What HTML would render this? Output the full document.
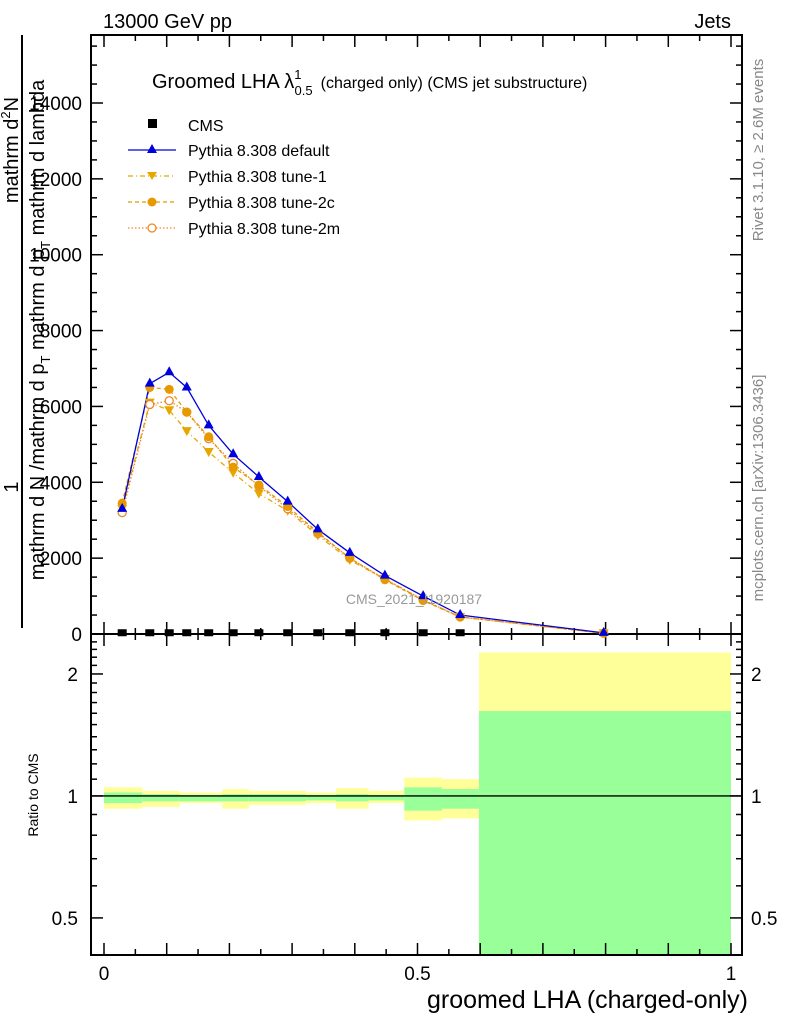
<!DOCTYPE html>
<html><head><meta charset="utf-8"><style>
body{margin:0;background:#fff;}
svg text{font-family:"Liberation Sans",sans-serif;}
</style></head><body>
<svg id="c" width="786" height="1024" xmlns="http://www.w3.org/2000/svg">
<g id="bands"></g>
<g id="axes"></g>
<g id="series"></g>
<text x="103" y="28" font-size="20">13000 GeV pp</text>
<text x="731" y="28" font-size="20" text-anchor="end">Jets</text>
<text x="152" y="88" font-size="20">Groomed LHA λ<tspan font-size="13" dy="-9">1</tspan><tspan font-size="13" dx="-7" dy="16">0.5</tspan><tspan font-size="16" dx="8" dy="-7">(charged only) (CMS jet substructure)</tspan></text>
<text x="414" y="604" font-size="14" fill="#999" text-anchor="middle">CMS_2021_I1920187</text>
<text transform="translate(763,150) rotate(-90)" font-size="15" fill="#888" text-anchor="middle">Rivet 3.1.10, ≥ 2.6M events</text>
<text transform="translate(763,488) rotate(-90)" font-size="15" fill="#888" text-anchor="middle">mcplots.cern.ch [arXiv:1306.3436]</text>
<g>
<text transform="translate(18,487) rotate(-90)" font-size="20" text-anchor="middle">1</text>
<line x1="22" y1="35" x2="22" y2="628" stroke="#000" stroke-width="2"/>
<text transform="translate(18,150) rotate(-90)" font-size="20" text-anchor="middle">mathrm d<tspan font-size="13" dy="-8">2</tspan><tspan dy="8">N</tspan></text>
<text transform="translate(44,330) rotate(-90)" font-size="20" text-anchor="middle">mathrm d N /mathrm d p<tspan font-size="13" dy="6">T</tspan><tspan dy="-6"> mathrm d p</tspan><tspan font-size="13" dy="6">T</tspan><tspan dy="-6"> mathrm d lambda</tspan></text>
</g>
<text transform="translate(38,795) rotate(-90)" font-size="14" text-anchor="middle">Ratio to CMS</text>
<text x="748" y="1008" font-size="25" text-anchor="end">groomed LHA (charged-only)</text>
<g>
<rect x="148" y="119" width="9" height="9" fill="#000"/>
<text x="188" y="131" font-size="16">CMS</text>
<line x1="128" y1="150" x2="176" y2="150" stroke="#0000dd" stroke-width="1.3"/>
<polygon points="152,144 157,153 147,153" fill="#0000dd"/>
<text x="188" y="156" font-size="16">Pythia 8.308 default</text>
<line x1="128" y1="176" x2="176" y2="176" stroke="#e6a800" stroke-width="1.3" stroke-dasharray="5,3,1,3"/>
<polygon points="147,172 157,172 152,180" fill="#e6a800"/>
<text x="188" y="182" font-size="16">Pythia 8.308 tune-1</text>
<line x1="128" y1="202" x2="176" y2="202" stroke="#e69a00" stroke-width="1.3" stroke-dasharray="4,3"/>
<circle cx="152" cy="202" r="4.5" fill="#e69a00"/>
<text x="188" y="208" font-size="16">Pythia 8.308 tune-2c</text>
<line x1="128" y1="228" x2="176" y2="228" stroke="#ee8822" stroke-width="1.3" stroke-dasharray="1.5,2"/>
<circle cx="152" cy="228" r="4" fill="#fff" stroke="#ee8822" stroke-width="1.3"/>
<text x="188" y="234" font-size="16">Pythia 8.308 tune-2m</text>
</g>
</svg>
<script>
const xs = [0.029,0.073,0.104,0.132,0.167,0.206,0.247,0.293,0.341,0.392,0.448,0.509,0.568,0.797];
const cms = [20,20,20,20,20,20,20,20,20,20,20,20,20,5];
const pyDefault = [3300,6600,6900,6500,5500,4740,4140,3490,2760,2140,1540,1000,500,30];
const tune1 = [3300,6100,5900,5350,4800,4250,3700,3250,2600,1950,1450,900,450,20];
const tune2c = [3450,6500,6450,5850,5200,4400,3930,3360,2680,2000,1430,880,450,20];
const tune2m = [3200,6050,6150,5850,5150,4500,3900,3300,2650,2000,1450,900,450,20];
const binEdges = [0,0.061,0.121,0.189,0.231,0.322,0.370,0.422,0.479,0.539,0.598,1];
const yelHi = [1.05,1.03,1.02,1.04,1.03,1.02,1.045,1.03,1.11,1.10,2.26];
const yelLo = [0.93,0.94,0.96,0.93,0.95,0.96,0.93,0.96,0.87,0.88,0.3];
const grnHi = [1.02,1.01,1.006,1.01,1.01,1.006,1.01,1.006,1.05,1.04,1.62];
const grnLo = [0.96,0.97,0.97,0.97,0.97,0.975,0.97,0.975,0.92,0.93,0.3];
const mainTicks = [0,2000,4000,6000,8000,10000,12000,14000];
const xTicks = [0,0.5,1];
const xTickLabels = ["0","0.5","1"];
const ratioTicks = [0.5,1,2];
const ratioTickLabels = ["0.5","1","2"];

const NS="http://www.w3.org/2000/svg";
const L=91,R=742,T=35,B=634,RB=955;
const X=v=>104+v*627;
const Y=v=>634-v*(531/14000);
const RMIN=0.405,RMAX=2.51;
const YR=v=>{v=Math.max(RMIN,Math.min(RMAX,v));return RB-(Math.log10(v)-Math.log10(RMIN))/(Math.log10(RMAX)-Math.log10(RMIN))*(RB-B);};
function mk(tag,attrs,parent){const e=document.createElementNS(NS,tag);for(const k in attrs)e.setAttribute(k,attrs[k]);parent.appendChild(e);return e;}
const bands=document.getElementById('bands'),axes=document.getElementById('axes'),ser=document.getElementById('series');
for(let i=0;i<yelHi.length;i++){
  const x0=X(binEdges[i]),x1=X(binEdges[i+1]);
  const y=mk('rect',{x:x0,y:YR(yelHi[i]),width:x1-x0,height:YR(yelLo[i])-YR(yelHi[i]),fill:'#ffff99'},bands);
  
  
  const g=mk('rect',{x:x0,y:YR(grnHi[i]),width:x1-x0,height:YR(grnLo[i])-YR(grnHi[i]),fill:'#99ff99'},bands);
  
  
}
const rl=mk('line',{x1:L,x2:R,y1:YR(1),y2:YR(1),stroke:'#000','stroke-width':1.3},axes);


mk('rect',{x:L,y:T,width:R-L,height:B-T,fill:'none',stroke:'#000','stroke-width':2},axes);
mk('rect',{x:L,y:B,width:R-L,height:RB-B,fill:'none',stroke:'#000','stroke-width':2},axes);
for(let v=0;v<=15500;v+=500){const big=v%2000===0;const w=big?12:6;
  mk('line',{x1:L,x2:L+w,y1:Y(v),y2:Y(v),stroke:'#000','stroke-width':1.5},axes);
  mk('line',{x1:R,x2:R-w,y1:Y(v),y2:Y(v),stroke:'#000','stroke-width':1.5},axes);}
mainTicks.forEach(v=>{const t=mk('text',{x:82,y:Y(v)+7,'font-size':19,'text-anchor':'end'},axes);t.textContent=String(v);
  
  });
for(let v=0;v<=1.0001;v+=0.05){const big=Math.abs(v*10-Math.round(v*10))<1e-6;const w=big?12:6;const x=X(v);
  [[T,1],[B,-1],[B,1],[RB,-1]].forEach(([y0,d])=>mk('line',{x1:x,x2:x,y1:y0,y2:y0+d*w,stroke:'#000','stroke-width':1.5},axes));}
xTicks.forEach((v,i)=>{const t=mk('text',{x:X(v),y:980,'font-size':19,'text-anchor':'middle'},axes);t.textContent=xTickLabels[i];
  
  });
for(let v=0.5;v<=2.5;v+=0.1){const big=[0.5,1,2].some(b=>Math.abs(b-v)<1e-6);const w=big?12:6;
  mk('line',{x1:L,x2:L+w,y1:YR(v),y2:YR(v),stroke:'#000','stroke-width':1.5},axes);
  mk('line',{x1:R,x2:R-w,y1:YR(v),y2:YR(v),stroke:'#000','stroke-width':1.5},axes);}
ratioTicks.forEach((v,i)=>{
  const a=mk('text',{x:78,y:YR(v)+7,'font-size':19,'text-anchor':'end'},axes);a.textContent=ratioTickLabels[i];
  
  
  const b=mk('text',{x:751,y:YR(v)+7,'font-size':19},axes);b.textContent=ratioTickLabels[i];
  
  });
function line(vals,color,dash,name){
  const p=mk('polyline',{points:vals.map((v,i)=>X(xs[i])+','+Y(v)).join(' '),fill:'none',stroke:color,'stroke-width':1.3,'stroke-dasharray':dash},ser);
  
  
}
line(tune1,'#e6a800','5,3,1,3','tune1-line');
line(tune2c,'#e69a00','4,3','tune2c-line');
line(tune2m,'#ee8822','1.5,2','tune2m-line');
line(pyDefault,'#0000dd','','default-line');
tune1.forEach((v,i)=>{const x=X(xs[i]),y=Y(v);const m=mk('polygon',{points:`${x-5},${y-4} ${x+5},${y-4} ${x},${y+5}`,fill:'#e6a800'},ser);
  
  });
tune2m.forEach((v,i)=>{const m=mk('circle',{cx:X(xs[i]),cy:Y(v),r:4,fill:'#fff',stroke:'#ee8822','stroke-width':1.3},ser);
  
  });
tune2c.forEach((v,i)=>{const m=mk('circle',{cx:X(xs[i]),cy:Y(v),r:4.5,fill:'#e69a00'},ser);
  
  });
pyDefault.forEach((v,i)=>{const x=X(xs[i]),y=Y(v);const m=mk('polygon',{points:`${x},${y-6} ${x+5},${y+3} ${x-5},${y+3}`,fill:'#0000dd'},ser);
  
  });
cms.forEach((v,i)=>{if(xs[i]>0.7)return;const x=X(xs[i]),y=Y(v);const m=mk('rect',{x:x-4.5,y:y-4,width:9,height:7,fill:'#000'},ser);
  
  });
</script>
</body></html>
